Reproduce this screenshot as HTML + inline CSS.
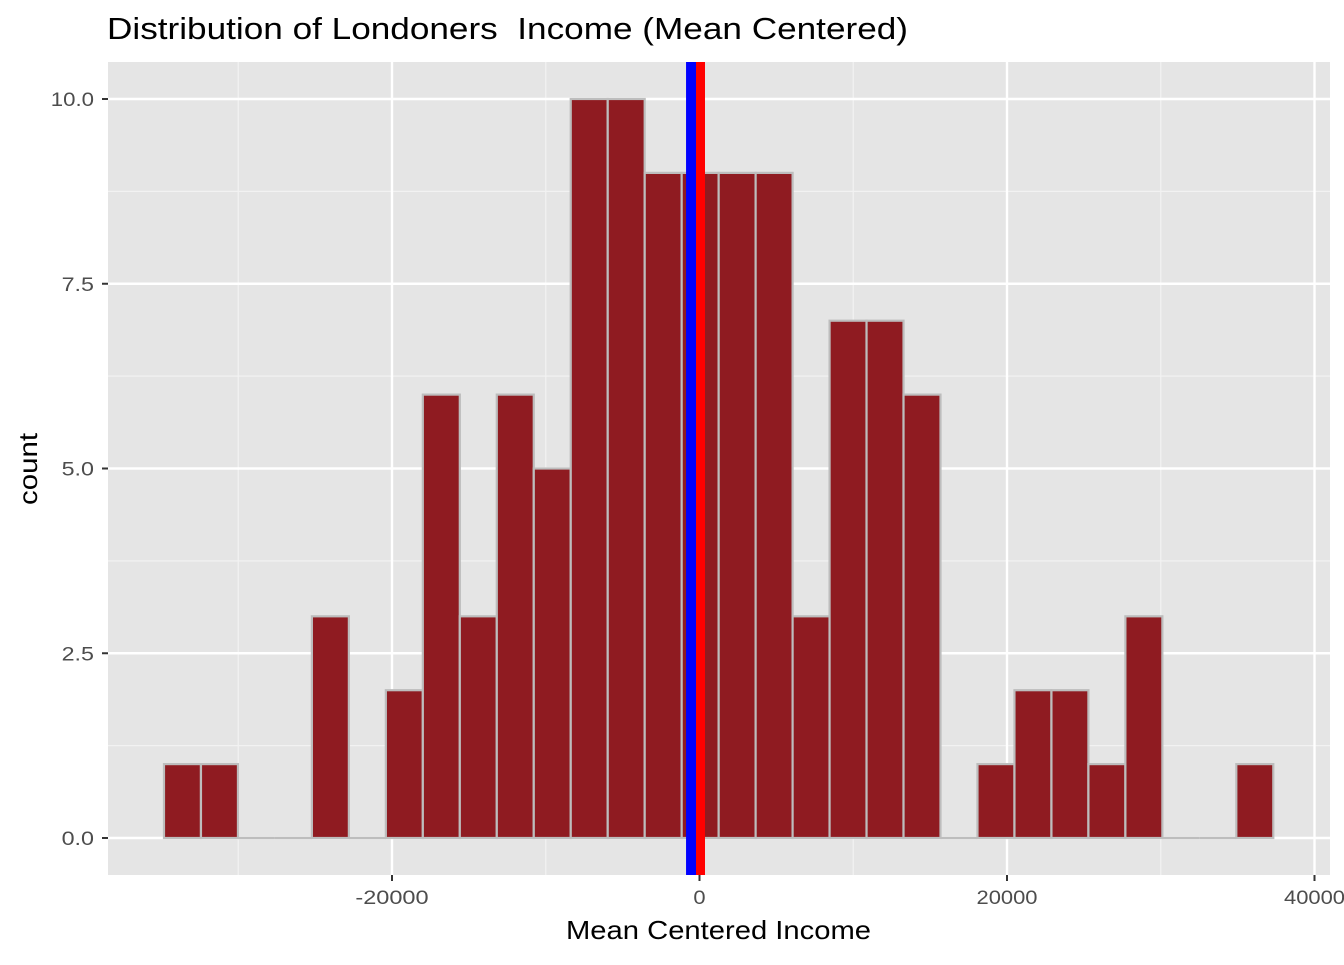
<!DOCTYPE html>
<html><head><meta charset="utf-8"><style>
body{margin:0;background:#fff;}
svg text{font-family:"Liberation Sans",Arial,sans-serif;}
</style></head><body>
<svg id="chart" width="1344" height="960" xmlns="http://www.w3.org/2000/svg">
<rect x="0" y="0" width="1344" height="960" fill="#fff"/>
<text x="107" y="39" font-size="31" fill="#000" style="white-space:pre" textLength="801" lengthAdjust="spacingAndGlyphs">Distribution of Londoners  Income (Mean Centered)</text>
<rect x="108" y="62" width="1222" height="813" fill="#e5e5e5"/>
<g id="grid"></g><g id="bars"></g><g id="lines"></g><g id="axes"></g>
<text x="566" y="939" font-size="26" fill="#000" textLength="305" lengthAdjust="spacingAndGlyphs">Mean Centered Income</text>
<text transform="translate(37,505) rotate(-90)" font-size="26" fill="#000" textLength="72" lengthAdjust="spacingAndGlyphs">count</text>
</svg>
<script>
const binStart = -34830;
const binWidth = 2405;
const counts = [1,1,0,0,3,0,2,6,3,6,5,10,10,9,9,9,9,3,7,7,6,0,1,2,2,1,3,0,0,1];
const xMajor = [-20000,0,20000,40000];
const xMinor = [-30000,-10000,10000,30000];
const yMajor = [0,2.5,5,7.5,10];
const yLabels = ["0.0","2.5","5.0","7.5","10.0"];
const yMinor = [1.25,3.75,6.25,8.75];
const meanLine = -550;
const zeroLine = 0;
const X0=108,X1=1330,Y0=62,Y1=875;
function sx(v){return 699.5+v/20000*307.5;}
function sy(v){return 838-v*73.9;}
const NS="http://www.w3.org/2000/svg";
function mk(t,a,p){const e=document.createElementNS(NS,t);for(const k in a)e.setAttribute(k,a[k]);p.appendChild(e);return e;}
const grid=document.getElementById('grid'),bars=document.getElementById('bars'),lines=document.getElementById('lines'),axes=document.getElementById('axes');
xMinor.forEach(v=>{const l=mk('line',{x1:sx(v),x2:sx(v),y1:Y0,y2:Y1,stroke:'#f2f2f2','stroke-width':1.2},grid);

});
yMinor.forEach(v=>{const l=mk('line',{x1:X0,x2:X1,y1:sy(v),y2:sy(v),stroke:'#f2f2f2','stroke-width':1.2},grid);

});
xMajor.forEach(v=>{const l=mk('line',{x1:sx(v),x2:sx(v),y1:Y0,y2:Y1,stroke:'#fff','stroke-width':2.4},grid);


mk('line',{x1:sx(v),x2:sx(v),y1:Y1,y2:Y1+6,stroke:'#333','stroke-width':2},axes);
const s=String(v);
const w=s.length*12.2;
const t=mk('text',{x:sx(v)-w/2,y:904,'font-size':19,fill:'#4d4d4d',textLength:w,lengthAdjust:'spacingAndGlyphs'},axes);t.textContent=s;

});
yMajor.forEach((v,i)=>{const l=mk('line',{x1:X0,x2:X1,y1:sy(v),y2:sy(v),stroke:'#fff','stroke-width':2.4},grid);


mk('line',{x1:X0-6,x2:X0,y1:sy(v),y2:sy(v),stroke:'#333','stroke-width':2},axes);
const s=yLabels[i];
const w=s.length*10.8;
const t=mk('text',{x:X0-14-w,y:sy(v)+7,'font-size':19,fill:'#4d4d4d',textLength:w,lengthAdjust:'spacingAndGlyphs'},axes);t.textContent=s;

});
counts.forEach((c,i)=>{const a=sx(binStart+i*binWidth),b=sx(binStart+(i+1)*binWidth);
if(c===0){const z=mk('line',{x1:a,x2:b,y1:sy(0),y2:sy(0),stroke:'#bdbdbd','stroke-width':2.2},bars);

return;}
const r=mk('rect',{x:a,y:sy(c),width:b-a,height:sy(0)-sy(c),fill:'#8f1b21',stroke:'#bdbdbd','stroke-width':2.2},bars);

});
const bl=mk('line',{x1:sx(meanLine),x2:sx(meanLine),y1:Y0,y2:Y1,stroke:'#0000ff','stroke-width':10},lines);


const rl=mk('line',{x1:sx(zeroLine)+1,x2:sx(zeroLine)+1,y1:Y0,y2:Y1,stroke:'#ff0000','stroke-width':9},lines);


</script>
</body></html>
